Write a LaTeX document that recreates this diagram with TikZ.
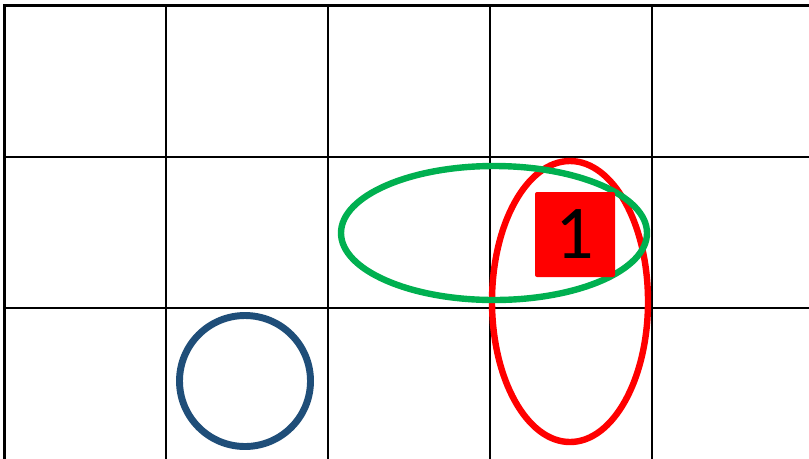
\documentclass[tikz,border=0pt]{standalone}
\usepackage{fontspec}
\setmainfont{Carlito}
\definecolor{gridblack}{RGB}{0,0,0}
\definecolor{ringgreen}{RGB}{0,176,80}
\definecolor{ringred}{RGB}{255,0,0}
\definecolor{ringblue}{RGB}{31,78,121}
\tikzset{
  gridline/.style={draw=gridblack, line width=2.2pt},
  ring/.style={line width=4.8pt},
  redbox/.style={fill=ringred, draw=none, rounded corners=1.5pt, inner sep=0pt,
    minimum width=60pt, minimum height=63.75pt, font=\fontsize{57}{57}\selectfont, text=black}
}
\begin{document}
\begin{tikzpicture}[x={(0.75pt,0)}, y={(0,-0.75pt)}]
\useasboundingbox (0,0) rectangle (809,458);
\fill[white] (0,0) rectangle (809,458);
% grid
\foreach \gx in {4.5,166,328,490,652} {\draw[gridline] (\gx,4) -- (\gx,460);}
\foreach \gy in {5.5,157,308} {\draw[gridline] (3,\gy) -- (812,\gy);}
% rings
\draw[ring, ringred] (570,301.5) ellipse [x radius=78, y radius=140.5];
\draw[ring, ringgreen] (494,233) ellipse [x radius=153, y radius=67];
\draw[ring, ringblue, line width=5.2pt] (245,381) circle [radius=65.5];
% box
\node[redbox] (one) at (575,234.5) {\raisebox{-3pt}{1}};
\end{tikzpicture}
\end{document}
